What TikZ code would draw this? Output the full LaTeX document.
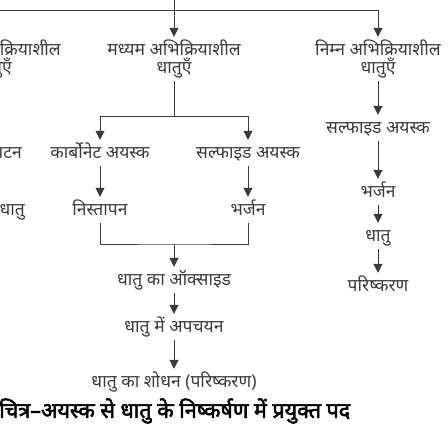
\documentclass[tikz,border=0pt]{standalone}
\usepackage{fontspec}
\newfontfamily\deva[Script=Devanagari]{Noto Sans}
\newfontfamily\devabold[Script=Devanagari, FakeBold=2.5]{Noto Sans}
\usepackage{tikz}
\usetikzlibrary{arrows.meta}

\definecolor{inkgray}{HTML}{3A3A3A}

\tikzset{
	stepbox/.style={inner sep=0pt, text height=15pt, text depth=5pt, text=inkgray,
		font=\deva\fontsize{17.5}{20}\selectfont},
	flow/.style={draw=inkgray, line width=0.9pt},
	arr/.style={flow, -{Triangle[length=9pt, width=9pt, fill=inkgray]}}
}

\begin{document}
\begin{tikzpicture}[x=1pt, y=-1pt]
	\def\xm{174};
	\def\xc{100};
	\def\xs{248};
	\def\xl{378};

	\useasboundingbox (0,0) rectangle (448,441);
	\clip (0,0) rectangle (448,441);

	% reactivity classes
	\node[stepbox, anchor=east] (high) at (61,51) {अधिक क्रियाशील};
	\node[stepbox, anchor=east] (high metal) at (12,69) {धातुएँ};
	\node[stepbox] (mid) at (\xm,51) {मध्यम अभिक्रियाशील};
	\node[stepbox] (mid metal) at (\xm,69) {धातुएँ};
	\node[stepbox] (low) at (\xl,51) {निम्न अभिक्रियाशील};
	\node[stepbox] (low metal) at (\xl,69) {धातुएँ};

	% ores
	\node[stepbox, anchor=east] (electrolysis) at (22,154) {विद्युत अपघटन};
	\node[stepbox] (carbonate) at (\xc,154) {कार्बोनेट अयस्क};
	\node[stepbox] (sulphide) at (\xs,154) {सल्फाइड अयस्क};
	\node[stepbox] (low sulphide) at (\xl,129) {सल्फाइड अयस्क};

	% treatment
	\node[stepbox, anchor=east] (free metal) at (25,211) {धातु};
	\node[stepbox] (calcination) at (\xc,211) {निस्तापन};
	\node[stepbox] (roasting) at (\xs,211) {भर्जन};
	\node[stepbox] (low roasting) at (\xl,193) {भर्जन};
	\node[stepbox] (low free) at (\xl,237) {धातु};
	\node[stepbox] (low refining) at (\xl,287) {परिष्करण};

	\node[stepbox] (oxide) at (\xm,281) {धातु का ऑक्साइड};
	\node[stepbox] (reduction) at (\xm,328) {धातु में अपचयन};
	\node[stepbox] (refining) at (\xm,383) {धातु का शोधन (परिष्करण)};

	\node[anchor=west, inner sep=0pt, font=\devabold\fontsize{21.5}{26}\selectfont]
		(caption) at (-1,411) {चित्र–अयस्क से धातु के निष्कर्षण में प्रयुक्त पद};

	\coordinate (top in) at (\xm,0);
	\coordinate (left end) at (0,10);
	\coordinate (top split) at (\xm,10);
	\coordinate (mid split) at (\xm,116);
	\coordinate (merge) at (\xm,244);

	\begin{scope}[shorten >=4pt, shorten <=2pt]
		\draw[arr, shorten <=0pt] (top in) -- (mid);
		\draw[flow, shorten <=0pt, shorten >=0pt] (left end) -- (top split);
		\draw[arr, shorten <=0pt] (top split) -| (low);

		\draw[flow, shorten >=0pt] (mid metal) -- (mid split);
		\draw[arr, shorten <=0pt] (mid split) -| (carbonate);
		\draw[arr, shorten <=0pt] (mid split) -| (sulphide);
		\draw[arr] (carbonate) -- (calcination);
		\draw[arr] (sulphide) -- (roasting);

		\draw[flow, shorten >=2pt] (calcination) |- (merge) -| (roasting);
		\draw[arr, shorten <=0pt] (merge) -- (oxide);
		\draw[arr] (oxide) -- (reduction);
		\draw[arr] (reduction) -- (refining);

		\draw[arr] (low metal) -- (low sulphide);
		\draw[arr] (low sulphide) -- (low roasting);
		\draw[arr] (low roasting) -- (low free);
		\draw[arr] (low free) -- (low refining);
	\end{scope}
\end{tikzpicture}
\end{document}
